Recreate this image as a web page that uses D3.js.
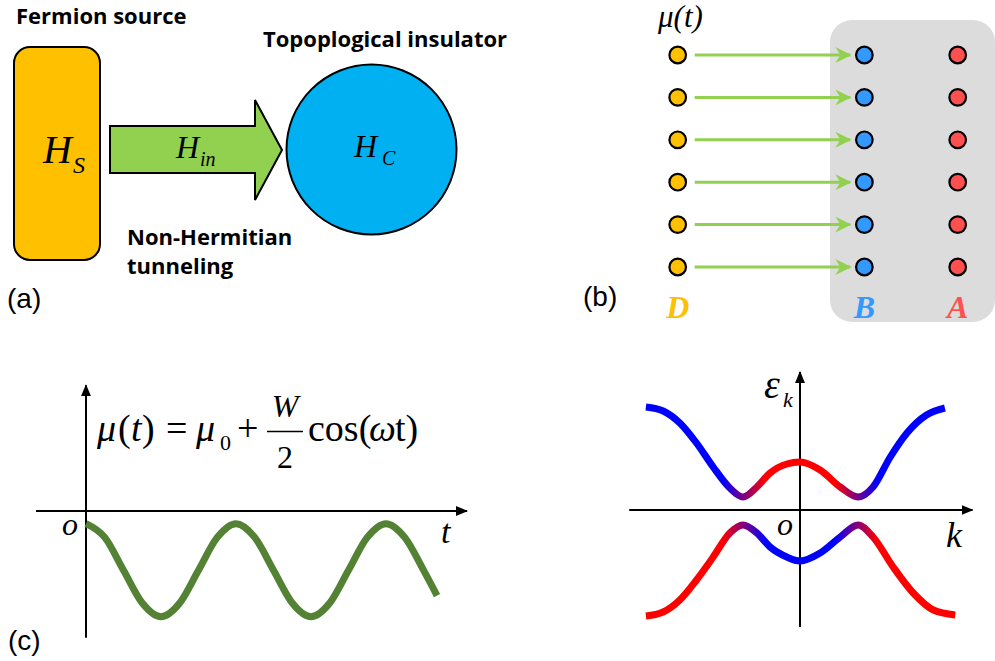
<!DOCTYPE html>
<html>
<head>
<meta charset="utf-8">
<script src="https://cdn.jsdelivr.net/npm/d3@7"></script>
<style>
  body { margin: 0; background: #fff; }
  .Bold { font-family: "Open Sans", sans-serif; font-weight: 700; font-size: 22px; fill: #000; }
  .Panel { font-family: "Liberation Sans", Arial, sans-serif; font-size: 28px; fill: #000; }
  .Math { font-family: "Liberation Serif", "Times New Roman", serif; fill: #000; }
  .It { font-style: italic; }
</style>
</head>
<body>
<div id="viz"></div>
<script>

// ---- data ----

// panel (a): the three blocks
const blockLabels = ["Fermion source", "Topoplogical insulator", "Non-Hermitian", "tunneling"]

// panel (b): chain of sites, 6 rows, columns D, B, A (column index 0, 2, 3)
const chainRows = [0, 1, 2, 3, 4, 5]
const chainCols = ["D", "B", "A"]
const chainColIndex = [0, 2, 3]
const chainColors = ["#FFC000", "#3399FF", "#FF5050"]

// panel (c): mu(t), t in periods, mu relative to the axis
const waveT  = [0, 0.125, 0.25, 0.375, 0.5, 0.625, 0.75, 0.875, 1, 1.125, 1.25, 1.375, 1.5, 1.625, 1.75, 1.875, 2, 2.125, 2.25, 2.34]
const waveMu = [-0.12, -0.25, -0.56, -0.87, -1.0, -0.87, -0.56, -0.25, -0.12, -0.25, -0.56, -0.87, -1.0, -0.87, -0.56, -0.25, -0.12, -0.25, -0.56, -0.80]

// panel (d): the two bands
const upperK = [-2.68, -2.38, -2.09, -1.80, -1.51, -1.22, -0.99, -0.75, -0.52, -0.23, 0, 0.35, 0.70, 1.01, 1.27, 1.57, 1.86, 2.20, 2.52]
const upperE = [1.03, 0.99, 0.87, 0.67, 0.43, 0.22, 0.13, 0.23, 0.37, 0.46, 0.48, 0.40, 0.23, 0.13, 0.23, 0.53, 0.77, 0.95, 1.02]
const lowerK = [-2.68, -2.38, -2.09, -1.80, -1.51, -1.22, -0.99, -0.75, -0.52, -0.23, 0, 0.35, 0.70, 1.01, 1.27, 1.62, 1.97, 2.32, 2.70]
const lowerE = [-1.06, -1.02, -0.90, -0.70, -0.47, -0.23, -0.15, -0.23, -0.37, -0.47, -0.51, -0.43, -0.27, -0.15, -0.27, -0.57, -0.83, -1.00, -1.05]
// colour along k: outer part / anticrossing / inner part
const bandStopK = [-3, -1.35, -0.6, 0.6, 1.35, 3]

const svg = d3.select("#viz").append("svg")
    .attr("width", 995)
    .attr("height", 661)

const defs = svg.append("defs")

// arrow heads
defs.append("marker").attr("id", "greenHead")
    .attr("markerUnits", "userSpaceOnUse")
    .attr("viewBox", "0 0 16 16").attr("markerWidth", 16).attr("markerHeight", 16)
    .attr("refX", 15).attr("refY", 8).attr("orient", "auto")
    .append("path").attr("d", "M0,0 L16,8 L0,16 L5,8 Z").attr("fill", "#92D050")
defs.append("marker").attr("id", "blackHead")
    .attr("markerUnits", "userSpaceOnUse")
    .attr("viewBox", "0 0 12 10").attr("markerWidth", 12).attr("markerHeight", 10)
    .attr("refX", 11).attr("refY", 5).attr("orient", "auto")
    .append("path").attr("d", "M0,0 L12,5 L0,10 Z").attr("fill", "#000")

// ================= (a) =================
function drawPanelA() {
    let g = svg.append("g")
    g.append("rect").attr("x", 14).attr("y", 47).attr("width", 86).attr("height", 213)
        .attr("rx", 16).attr("fill", "#FFC000").attr("stroke", "#000").attr("stroke-width", 2)
    g.append("path")
        .attr("d", "M110,126 L255,126 L255,100 L282,150 L255,200 L255,173 L110,173 Z")
        .attr("fill", "#92D050").attr("stroke", "#000").attr("stroke-width", 2)
    g.append("circle").attr("cx", 371.5).attr("cy", 149.5).attr("r", 85)
        .attr("fill", "#00B0F0").attr("stroke", "#000").attr("stroke-width", 2)

    // H labels
    const hs = [{x: 43, y: 163, size: 40, sub: "S", sx: 73, sy: 173, ss: 24},
                {x: 176, y: 158, size: 32, sub: "in", sx: 200, sy: 166, ss: 20},
                {x: 354, y: 157, size: 32, sub: "C", sx: 382, sy: 165, ss: 20}]
    hs.forEach(h => {
        g.append("text").attr("class", "Math It").attr("x", h.x).attr("y", h.y)
            .style("font-size", h.size + "px").text("H")
        g.append("text").attr("class", "Math It").attr("x", h.sx).attr("y", h.sy)
            .style("font-size", h.ss + "px").text(h.sub)
    })

    const pos = [[16, 24], [263, 47], [127, 245], [127, 274]]
    blockLabels.forEach((t, i) => {
        g.append("text").attr("class", "Bold").attr("x", pos[i][0]).attr("y", pos[i][1]).text(t)
    })
    g.append("text").attr("class", "Panel").attr("x", 7).attr("y", 308).text("(a)")
}

// ================= (b) =================
function drawPanelB() {
    let g = svg.append("g")
    let colX = d3.scaleLinear().domain([0, 3]).range([677.7, 957.7])
    let rowY = d3.scaleLinear().domain([0, 5]).range([55, 267])

    g.append("rect").attr("x", 830).attr("y", 20).attr("width", 165).attr("height", 302)
        .attr("rx", 22).attr("fill", "#DCDCDC")

    chainRows.forEach(r => {
        g.append("line")
            .attr("x1", colX(0) + 17).attr("x2", colX(2) - 14)
            .attr("y1", rowY(r)).attr("y2", rowY(r))
            .attr("stroke", "#92D050").attr("stroke-width", 3)
            .attr("marker-end", "url(#greenHead)")
        chainColIndex.forEach((c, j) => {
            g.append("circle").attr("cx", colX(c)).attr("cy", rowY(r)).attr("r", 8.3)
                .attr("fill", chainColors[j]).attr("stroke", "#000").attr("stroke-width", 2.2)
        })
    })
    chainCols.forEach((t, j) => {
        g.append("text").attr("x", colX(chainColIndex[j])).attr("y", 318)
            .attr("text-anchor", "middle")
            .style("font-family", '"Liberation Serif", serif')
            .style("font-size", "32px").style("font-weight", 700).style("font-style", "italic")
            .style("fill", chainColors[j]).text(t)
    })
    g.append("text").attr("class", "Math It").attr("x", 658).attr("y", 27).style("font-size", "31px")
        .text("μ(t)")
    g.append("text").attr("class", "Panel").attr("x", 583).attr("y", 306).text("(b)")
}

// ================= (c) =================
function drawPanelC() {
    let g = svg.append("g")
    let tx = d3.scaleLinear().domain([0, 1]).range([86, 236])
    let my = d3.scaleLinear().domain([0, -1]).range([511, 616.7])

    g.append("line").attr("x1", tx(-0.333)).attr("x2", tx(2.54)).attr("y1", my(0)).attr("y2", my(0))
        .attr("stroke", "#000").attr("stroke-width", 2).attr("marker-end", "url(#blackHead)")
    g.append("line").attr("x1", tx(0)).attr("x2", tx(0)).attr("y1", my(-1.2)).attr("y2", my(1.19))
        .attr("stroke", "#000").attr("stroke-width", 2).attr("marker-end", "url(#blackHead)")

    let line = d3.line().x((d, i) => tx(waveT[i])).y(d => my(d)).curve(d3.curveMonotoneX)
    g.append("path").attr("d", line(waveMu)).attr("fill", "none")
        .attr("stroke", "#548235").attr("stroke-width", 7)

    // formula, one text with positioned pieces
    const f = [{t: "μ", x: 97, it: true}, {t: "(", x: 118}, {t: "t", x: 131, it: true}, {t: ")", x: 142},
               {t: "=", x: 166}, {t: "μ", x: 196, it: true}, {t: "+", x: 237},
               {t: "cos(", x: 308}, {t: "ω", x: 369, it: true}, {t: "t)", x: 395}]
    let formula = g.append("text").attr("class", "Math").attr("y", 441).style("font-size", "38px")
    f.forEach(p => {
        formula.append("tspan").attr("x", p.x).style("font-style", p.it ? "italic" : "normal").text(p.t)
    })
    g.append("text").attr("class", "Math").attr("x", 220).attr("y", 450).style("font-size", "22px").text("0")
    g.append("line").attr("x1", 267).attr("x2", 303).attr("y1", 431.5).attr("y2", 431.5)
        .attr("stroke", "#000").attr("stroke-width", 1.6)
    g.append("text").attr("class", "Math It").attr("x", 285).attr("y", 417).attr("text-anchor", "middle")
        .style("font-size", "32px").text("W")
    g.append("text").attr("class", "Math").attr("x", 285).attr("y", 468).attr("text-anchor", "middle")
        .style("font-size", "32px").text("2")

    g.append("text").attr("class", "Math It").attr("x", 62).attr("y", 535).style("font-size", "32px").text("o")
    g.append("text").attr("class", "Math It").attr("x", 441).attr("y", 543).style("font-size", "34px").text("t")
    g.append("text").attr("class", "Panel").attr("x", 8).attr("y", 650).text("(c)")
}

// ================= (d) =================
function drawPanelD() {
    let g = svg.append("g")
    let kx = d3.scaleLinear().domain([-3, 3]).range([627.5, 972.5])
    let ey = d3.scaleLinear().domain([0, 1]).range([510, 410])

    g.append("line").attr("x1", kx(-2.97)).attr("x2", kx(3.0)).attr("y1", ey(0)).attr("y2", ey(0))
        .attr("stroke", "#000").attr("stroke-width", 2).attr("marker-end", "url(#blackHead)")
    g.append("line").attr("x1", kx(0)).attr("x2", kx(0)).attr("y1", ey(-1.17)).attr("y2", ey(1.38))
        .attr("stroke", "#000").attr("stroke-width", 2).attr("marker-end", "url(#blackHead)")

    function gradient(id, outer, inner) {
        let gr = defs.append("linearGradient").attr("id", id)
            .attr("gradientUnits", "userSpaceOnUse")
            .attr("x1", kx(bandStopK[0])).attr("x2", kx(bandStopK[bandStopK.length - 1]))
            .attr("y1", 0).attr("y2", 0)
        let span = bandStopK[bandStopK.length - 1] - bandStopK[0]
        const cols = [outer, outer, inner, inner, outer, outer]
        bandStopK.forEach((k, i) => {
            gr.append("stop").attr("offset", (k - bandStopK[0]) / span).attr("stop-color", cols[i])
        })
    }
    gradient("gradUpper", "#0000FF", "#FF0000")
    gradient("gradLower", "#FF0000", "#0000FF")

    let line = d3.line().x(d => kx(d[0])).y(d => ey(d[1])).curve(d3.curveMonotoneX)
    g.append("path").attr("d", line(upperK.map((k, i) => [k, upperE[i]])))
        .attr("fill", "none").attr("stroke", "url(#gradUpper)").attr("stroke-width", 7)
    g.append("path").attr("d", line(lowerK.map((k, i) => [k, lowerE[i]])))
        .attr("fill", "none").attr("stroke", "url(#gradLower)").attr("stroke-width", 7)

    g.append("text").attr("class", "Math It").attr("x", 764).attr("y", 398).style("font-size", "40px").text("ε")
    g.append("text").attr("class", "Math It").attr("x", 783).attr("y", 407).style("font-size", "22px").text("k")
    g.append("text").attr("class", "Math It").attr("x", 777).attr("y", 535).style("font-size", "32px").text("o")
    g.append("text").attr("class", "Math It").attr("x", 946).attr("y", 547).style("font-size", "36px").text("k")
}

drawPanelA()
drawPanelB()
drawPanelC()
drawPanelD()

</script>
</body>
</html>
